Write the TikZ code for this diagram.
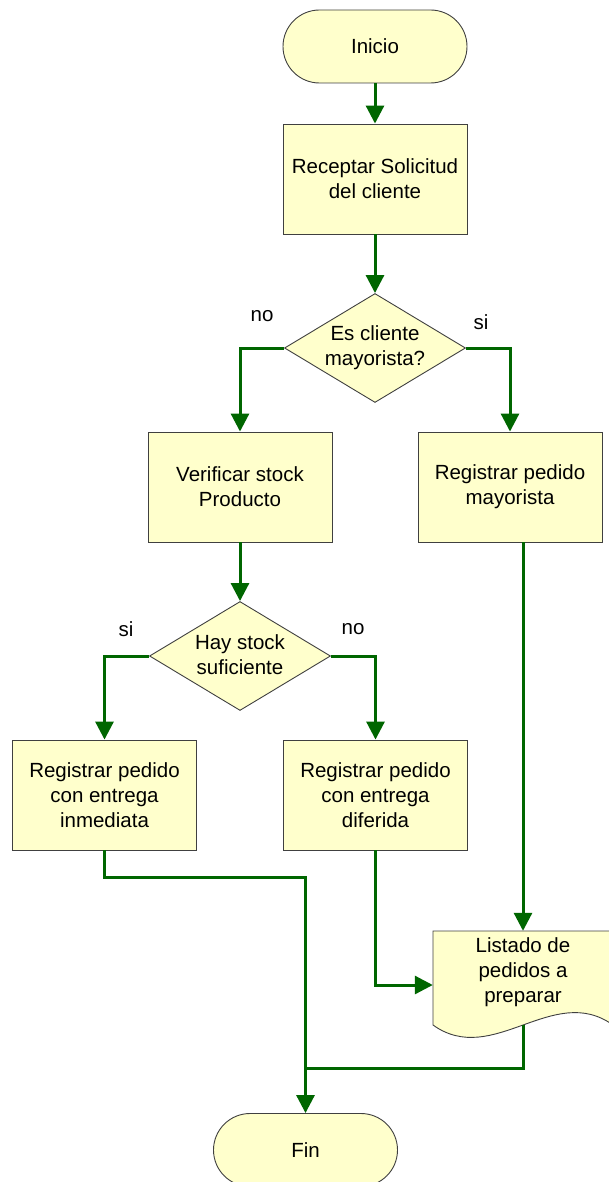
\documentclass[tikz,border=0pt]{standalone}
\usepackage{fontspec}
\setmainfont{Liberation Sans}
\usetikzlibrary{shapes.geometric,arrows.meta,calc}
\definecolor{boxfill}{HTML}{FFFFCC}
\definecolor{flowgreen}{HTML}{006600}
\definecolor{edge}{HTML}{404040}
\tikzset{
  txt/.style={font=\fontsize{20.5}{25}\selectfont, align=center, inner sep=0pt},
  term/.style={draw=edge, fill=boxfill, line width=0.9pt, rectangle, rounded corners=36.5pt,
    minimum width=184pt, minimum height=73pt, inner sep=0pt, txt},
  procbox/.style={draw=edge, fill=boxfill, line width=0.9pt, rectangle,
    minimum width=184pt, minimum height=110pt, inner sep=0pt, txt},
  decbox/.style={draw=edge, fill=boxfill, line width=0.9pt, diamond, aspect=1.636,
    minimum width=181pt, minimum height=109pt, inner sep=0pt},
  ghost/.style={rectangle, minimum width=180pt, minimum height=94pt, inner sep=0pt},
  lbl/.style={font=\fontsize{20.5}{25}\selectfont, inner sep=0pt},
  arr/.style={draw=flowgreen, line width=3pt, -{Triangle[length=18pt,width=18pt]}},
  conn/.style={draw=flowgreen, line width=3pt},
}
\begin{document}
\begin{tikzpicture}[x=1pt,y=-1pt]
\useasboundingbox (0,0) rectangle (609,1182);

\node[term] (ini) at (375,46.5) {Inicio};
\node[procbox] (rec) at (375,179) {Receptar Solicitud\\del cliente};
\node[decbox] (d1) at (375,348) {};
\node[txt] (d1t) at (375,348) {Es cliente\\mayorista?};
\node[procbox] (ver) at (240,487) {Verificar stock\\Producto};
\node[procbox] (may) at (510,487) {Registrar pedido\\mayorista};
\node[decbox] (d2) at (240,656) {};
\node[txt] (d2t) at (240,655) {Hay stock\\suficiente};
\node[procbox] (inm) at (104.5,795) {Registrar pedido\\con entrega\\inmediata};
\node[procbox] (dif) at (375.5,795) {Registrar pedido\\con entrega\\diferida};
\node[ghost] (doc) at (523,978) {};
\draw[edge, fill=boxfill, line width=0.9pt]
  (433,931) -- (613,931) -- (613,1025)
  .. controls (553,982) and (493,1068) .. (433,1025) -- cycle;
\node[txt] (doct) at (523,972) {Listado de\\pedidos a\\preparar};
\node[term] (fin) at (305.5,1150) {Fin};

\node[lbl] (l1) at (262,316) {no};
\node[lbl] (l2) at (481,322) {si};
\node[lbl] (l3) at (126,629) {si};
\node[lbl] (l4) at (353,629) {no};

\coordinate (j) at (305.5,1068);

\draw[arr] (ini.south) -- (rec.north);
\draw[arr] (rec.south) -- (d1.north);
\draw[arr] (d1.west) -| (ver.north);
\draw[arr] (d1.east) -| (may.north);
\draw[arr] (ver.south) -- (d2.north);
\draw[arr] (d2.west) -| (inm.north);
\draw[arr] (d2.east) -| (dif.north);
\draw[arr] (may.south -| doc.north) -- (doc.north);
\draw[arr] (dif.south) |- ([yshift=-7pt]doc.west);
\draw[arr] (inm.south) -- ++(0,27) -| (fin.north);
\draw[conn] (doc.south) |- (j);
\end{tikzpicture}
\end{document}
